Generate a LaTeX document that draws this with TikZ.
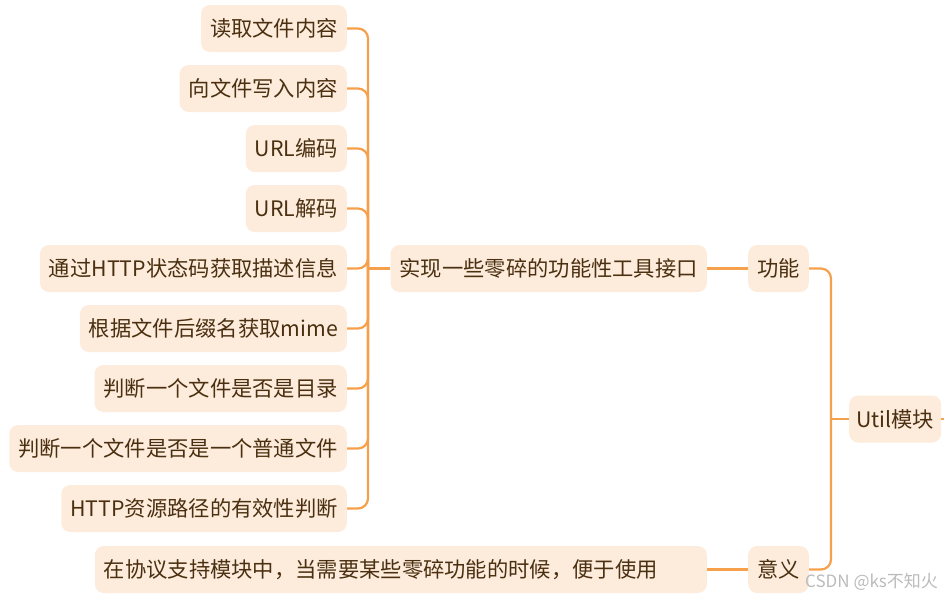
\documentclass[tikz,border=0pt]{standalone}
\usepackage{fontspec}
\setmainfont{Noto Sans CJK SC}
\newfontfamily\cjk{Noto Sans CJK SC}
\definecolor{boxfill}{HTML}{FDEBDC}
\definecolor{txt}{HTML}{4A3010}
\definecolor{linec}{HTML}{F7A04C}
\definecolor{wm}{HTML}{BBBBBB}
\begin{document}
\begin{tikzpicture}[x=1pt,y=-1pt,
  topic/.style={fill=boxfill,text=txt,rounded corners=9pt,minimum height=47pt,
    inner xsep=9pt,inner ysep=0pt,font=\cjk\fontsize{21.3}{24}\selectfont},
  conn/.style={draw=linec,line width=2.2pt,rounded corners=10pt},
  straight/.style={draw=linec,line width=2.2pt}]
\useasboundingbox (0,0) rectangle (944,598);
% root
\node[topic,anchor=west,inner xsep=7pt] (root) at (849,419) {Util模块};
% level 1
\node[topic,anchor=center] (gn) at (778.5,268.5) {功能};
\node[topic,anchor=center] (yy) at (778.5,569.5) {意义};
% level 2
\node[topic,anchor=east] (impl) at (707,268.5) {实现一些零碎的功能性工具接口};
\node[topic,anchor=east,text width=594pt,align=left] (use) at (707,569.5) {在协议支持模块中，当需要某些零碎功能的时候，便于使用};
% level 3
\node[topic,anchor=east] (c1) at (347,28.5) {读取文件内容};
\node[topic,anchor=east] (c2) at (347,88.5) {向文件写入内容};
\node[topic,anchor=east] (c3) at (347,148.5) {URL编码};
\node[topic,anchor=east] (c4) at (347,208.5) {URL解码};
\node[topic,anchor=east] (c5) at (347,268.5) {通过HTTP状态码获取描述信息};
\node[topic,anchor=east] (c6) at (347,328.5) {根据文件后缀名获取mime};
\node[topic,anchor=east] (c7) at (347,388.5) {判断一个文件是否是目录};
\node[topic,anchor=east] (c8) at (347,448.5) {判断一个文件是否是一个普通文件};
\node[topic,anchor=east] (c9) at (347,508.5) {HTTP资源路径的有效性判断};
% connectors
\coordinate (rj) at (831,419);
\coordinate (ij) at (368,268.5);
\coordinate (rend) at (950,419);
\draw[straight] (root.west) -- (rj);
\draw[conn] (rj) |- (gn.east);
\draw[conn] (rj) |- (yy.east);
\draw[straight] (root.east) -- (rend);
\draw[straight] (gn.west) -- (impl.east);
\draw[straight] (yy.west) -- (use.east);
\draw[straight] (impl.west) -- (ij);
\foreach \c in {c1,c2,c3,c4,c5,c6,c7,c8,c9}{
  \draw[conn] (ij) |- (\c.east);
}
% watermark
\node[text=wm,font=\cjk\fontsize{17}{19}\selectfont,anchor=west,inner sep=0pt] (wmk) at (805,582) {CSDN @ks不知火};
\end{tikzpicture}
\end{document}
